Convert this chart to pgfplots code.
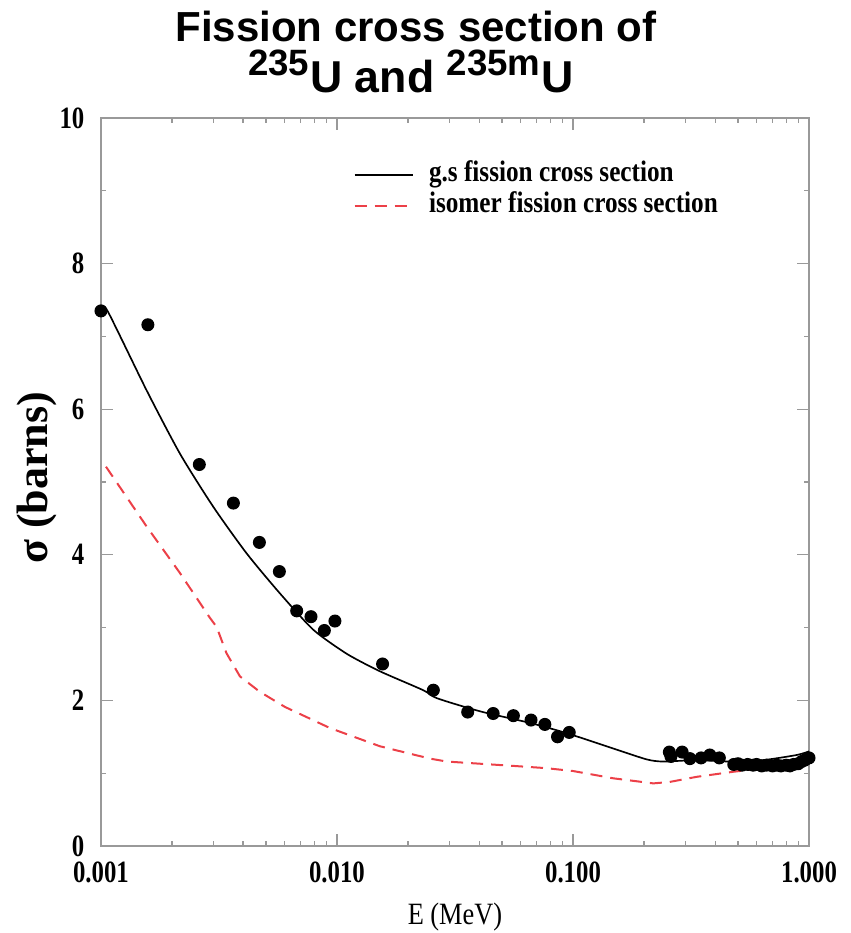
\documentclass[border=0pt]{standalone}
\usepackage{pgfplots}
\pgfplotsset{compat=1.18}
\usepackage{fontspec}
\setmainfont{Liberation Serif}
\newfontfamily\tickfont{Liberation Serif}[FakeStretch=0.8]
\newfontfamily\labfont{Liberation Serif}[FakeStretch=0.85]
\newfontfamily\titlefont{Liberation Sans}
\definecolor{axgray}{gray}{0.6}
\definecolor{isored}{RGB}{236,64,72}
\newcommand{\sups}[1]{\raisebox{0.38em}{\fontsize{11}{11}\selectfont #1}\kern0.3pt}

\pgfplotstableread{
E sigma
0.00100 7.40
0.00107 7.34
0.00156 6.26
0.00216 5.39
0.00299 4.66
0.00414 4.02
0.00573 3.47
0.00794 2.97
0.0110 2.64
0.0152 2.40
0.0232 2.14
0.0265 2.03
0.0404 1.85
0.0658 1.69
0.0940 1.55
0.148 1.34
0.205 1.19
0.241 1.16
0.334 1.18
0.463 1.16
0.640 1.18
0.887 1.25
1.000 1.30
}\gsdata

\pgfplotstableread{
E sigma
0.00105 5.21
0.00156 4.39
0.00216 3.75
0.00290 3.13
0.00309 3.01
0.00340 2.65
0.00388 2.33
0.00470 2.12
0.00602 1.91
0.00934 1.62
0.0152 1.37
0.0248 1.20
0.0292 1.16
0.0559 1.10
0.0766 1.07
0.100 1.03
0.148 0.93
0.219 0.86
0.257 0.88
0.334 0.95
0.478 1.02
0.650 1.07
0.850 1.12
1.000 1.17
}\isodata

\pgfplotstableread{
E sigma
0.00100 7.35
0.00158 7.16
0.00261 5.24
0.00364 4.71
0.00469 4.17
0.00570 3.77
0.00675 3.23
0.00776 3.15
0.00884 2.96
0.00980 3.09
0.0156 2.50
0.0256 2.14
0.0358 1.84
0.0459 1.82
0.0559 1.79
0.0664 1.73
0.0760 1.67
0.0860 1.50
0.0964 1.56
0.256 1.29
0.260 1.23
0.290 1.29
0.313 1.20
0.349 1.21
0.380 1.25
0.417 1.21
0.480 1.12
0.500 1.13
0.520 1.11
0.550 1.12
0.580 1.11
0.600 1.12
0.630 1.10
0.660 1.11
0.700 1.10
0.730 1.11
0.760 1.10
0.800 1.11
0.830 1.10
0.860 1.12
0.900 1.13
0.930 1.16
0.960 1.18
1.000 1.21
}\expdata

\begin{document}
\begin{tikzpicture}
\begin{axis}[
  at={(0pt,0pt)}, anchor=south west,
  scale only axis, width=212.4pt, height=218.4pt,
  xmode=log, xmin=0.001, xmax=1, ymin=0, ymax=10,
  xtick={0.001,0.01,0.1,1},
  xticklabels={0.001,0.010,0.100,1.000},
  minor xtick={0.002,0.003,0.004,0.005,0.006,0.007,0.008,0.009,
               0.02,0.03,0.04,0.05,0.06,0.07,0.08,0.09,
               0.2,0.3,0.4,0.5,0.6,0.7,0.8,0.9},
  ytick={0,2,4,6,8,10}, yticklabels={0,2,4,6,8,10},
  minor ytick={1,3,5,7,9},
  xtick pos=both, ytick pos=both,
  tick align=inside,
  major tick length=3.6pt, minor tick length=1.6pt,
  axis line style={axgray, line width=0.45pt},
  every tick/.style={axgray, line width=0.35pt},
  tick label style={font=\tickfont\bfseries\fontsize{9.3}{10}\selectfont, inner sep=0pt},
  xticklabel shift=4.6pt,
  yticklabel shift=4.8pt,
  xlabel={E (MeV)},
  xlabel style={font=\labfont\fontsize{9.3}{10}\selectfont, at={(axis description cs:0.5,0)}, anchor=north, yshift=-17pt, inner sep=0pt},
  ylabel={σ (barns)},
  ylabel style={font=\bfseries\fontsize{13.2}{15}\selectfont, at={(axis description cs:0,0.5)}, anchor=center, yshift=19.2pt, xshift=1.2pt, inner sep=0pt},
  legend style={at={(rel axis cs:0.356,0.944)}, anchor=north west, draw=none, fill=none,
    inner sep=0pt, row sep=0pt, column sep=4.6pt, font=\labfont\bfseries\fontsize{8.9}{9}\selectfont,
    nodes={inner sep=0pt, text height=6.6pt, text depth=2.7pt}},
  legend cell align=left,
  legend image code/.code={\draw[#1] (0pt,0pt) -- (17.4pt,0pt);},
]
\addplot[black, line width=0.5pt, smooth, tension=0.4] table[x=E, y=sigma] {\gsdata};
\addlegendentry{g.s fission cross section}
\addplot[isored, line width=0.6pt, dash pattern=on 3.6pt off 2.4pt] table[x=E, y=sigma] {\isodata};
\addlegendentry{isomer fission cross section}
\addplot[only marks, mark=*, mark size=1.75pt, black, forget plot] table[x=E, y=sigma] {\expdata};
\end{axis}
\node[anchor=base, inner sep=0pt, font=\titlefont\bfseries\fontsize{12.6}{14}\selectfont] at (94.5pt,241.2pt) {Fission cross section of};
\node[anchor=base, inner sep=0pt, font=\titlefont\bfseries\fontsize{13.4}{14}\selectfont] at (93.0pt,226.0pt) {\sups{235}U and \sups{235m}U};
\pgfresetboundingbox
\path (-30.3pt,-26.1pt) rectangle (224.7pt,253.8pt);
\end{tikzpicture}
\end{document}
